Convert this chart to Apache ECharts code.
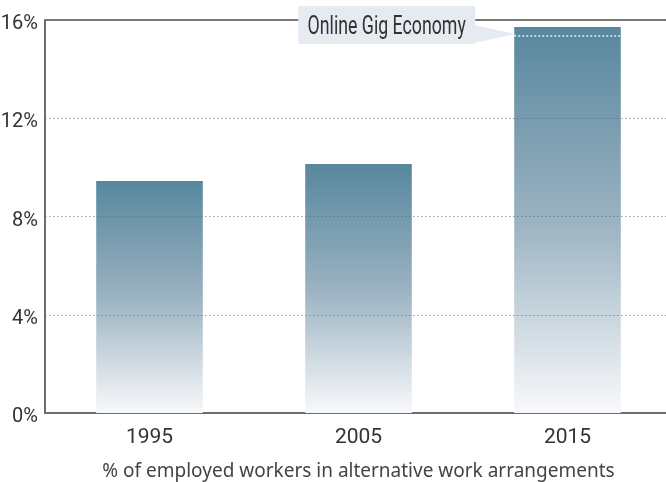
<!DOCTYPE html>
<html>
<head>
<meta charset="utf-8">
<script src="https://cdn.jsdelivr.net/npm/echarts@6/dist/echarts.min.js"></script>
<style>html,body{margin:0;padding:0;background:#fff}#c{width:666px;height:482px}</style>
</head>
<body>
<div id="c"></div>
<script>
const categories = ['1995', '2005', '2015'];
const values = [9.45, 10.14, 15.72];
const yTicks = [0, 4, 8, 12, 16];
const calloutText = 'Online Gig Economy';
const calloutPoint = ['2015', 15.35];
const axisTitle = '% of employed workers in alternative work arrangements';

const narrow = "Roboto, 'Liberation Sans', sans-serif";
const BAR_RATIO = 0.51;

const chart = echarts.init(document.getElementById('c'), null, {renderer: 'canvas'});
chart.setOption({
  animation: false,
  grid: {left: 45, right: -6, top: 20, bottom: 69, outerBoundsMode: 'none', containLabel: false},
  xAxis: [{
    type: 'category',
    data: categories,
    axisLine: {lineStyle: {color: '#6e6e68', width: 2}},
    axisTick: {show: false},
    axisLabel: {color: '#333', fontSize: 21, fontFamily: narrow, margin: 14},
    name: axisTitle,
    nameLocation: 'middle',
    nameGap: 49,
    nameTextStyle: {color: '#444', fontSize: 19, fontFamily: "'Noto Sans', sans-serif"}
  }, {
    type: 'category',
    data: categories,
    position: 'top',
    axisLine: {show: true, lineStyle: {color: '#7a7a72', width: 2}},
    axisTick: {show: false},
    axisLabel: {show: false}
  }],
  yAxis: {
    type: 'value',
    min: yTicks[0],
    max: yTicks[yTicks.length - 1],
    interval: 4,
    z: 3,
    axisLine: {show: true, lineStyle: {color: '#6e6e68', width: 2}},
    axisTick: {show: false},
    splitLine: {lineStyle: {color: 'rgba(110,110,110,0.7)', type: [1.5, 2.5], width: 1}},
    axisLabel: {
      color: '#333', fontSize: 20, fontFamily: narrow, margin: 7,
      verticalAlign: 'top', lineHeight: 8,
      formatter: v => v + '%'
    }
  },
  series: [{
    type: 'bar',
    data: values,
    barWidth: (BAR_RATIO * 100) + '%',
    itemStyle: {
      color: new echarts.graphic.LinearGradient(0, 0, 0, 1, [
        {offset: 0, color: '#57879e'},
        {offset: 0.5, color: '#9ab2c1'},
        {offset: 1, color: '#f8f9fb'}
      ])
    }
  }, {
    type: 'custom',
    clip: false,
    z: 5,
    data: [calloutPoint],
    renderItem: function (params, api) {
      const p = api.coord([api.value(0), api.value(1)]);
      const w = api.size([1, 0])[0] * BAR_RATIO;
      const left = p[0] - w / 2, right = p[0] + w / 2;
      const topY = api.coord([0, 16])[1];
      const boxR = left - 39, boxW = 177, boxT = topY - 14, boxH = 38;
      return {
        type: 'group',
        children: [
          {type: 'line', shape: {x1: left, y1: p[1], x2: right, y2: p[1]},
           style: {stroke: 'rgba(255,255,255,0.85)', lineWidth: 1.5, lineDash: [2, 2]}},
          {type: 'polygon', shape: {points: [[boxR - 1, boxT + 19], [boxR - 1, boxT + 37], [left + 2, p[1] - 2]]},
           style: {fill: '#e6ebf1'}},
          {type: 'rect', shape: {x: boxR - boxW, y: boxT, width: boxW, height: boxH},
           style: {fill: '#e6ebf1'}},
          {type: 'text', x: boxR - boxW / 2, y: boxT + boxH / 2 + 3, scaleX: 0.71,
           style: {text: calloutText, fill: '#333', fontSize: 25, fontFamily: narrow,
                   align: 'center', verticalAlign: 'middle'}}
        ]
      };
    }
  }]
});
</script>
</body>
</html>
